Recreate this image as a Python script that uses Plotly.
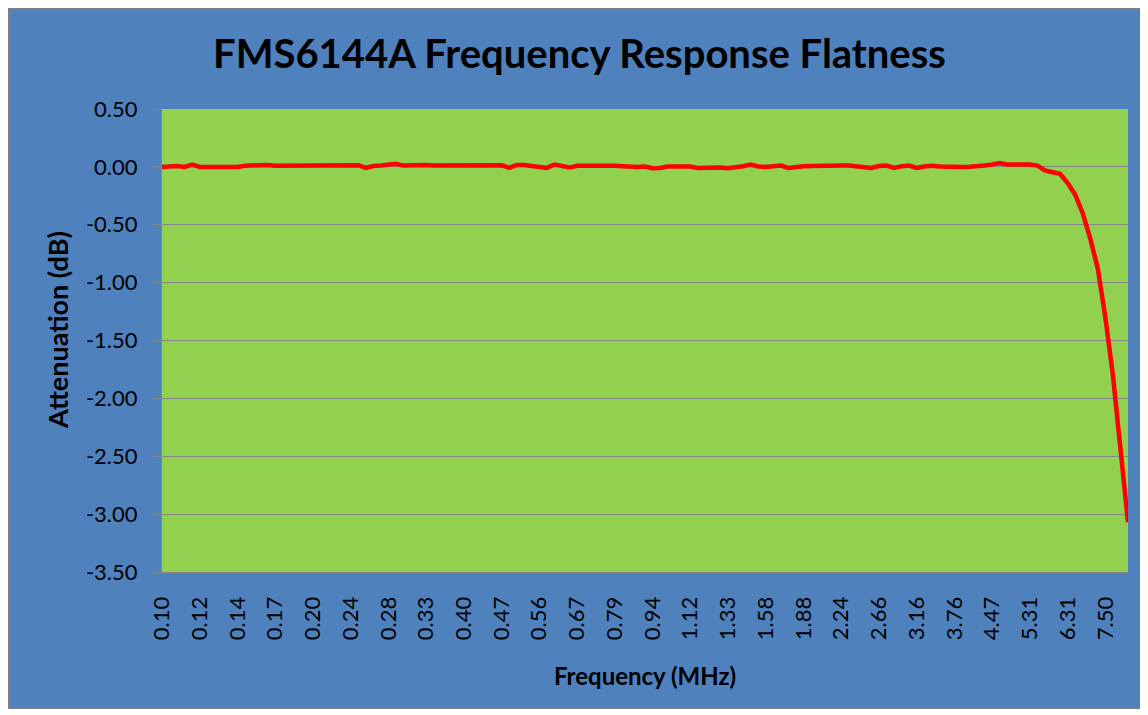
import plotly.graph_objects as go

# Tick labels (frequency in MHz), one every 5 measurement points
freq_labels = ["0.10", "0.12", "0.14", "0.17", "0.20", "0.24", "0.28", "0.33", "0.40",
               "0.47", "0.56", "0.67", "0.79", "0.94", "1.12", "1.33", "1.58", "1.88",
               "2.24", "2.66", "3.16", "3.76", "4.47", "5.31", "6.31", "7.50"]
points_per_label = 5

attenuation_db = [
    0.000, 0.003, 0.008, 0.000, 0.020, 0.000, 0.000, 0.000, 0.000, 0.000,
    0.000, 0.010, 0.012, 0.006, 0.017, 0.009, 0.009, 0.009, 0.011, 0.017,
    0.017, 0.017, 0.015, 0.009, 0.017, 0.017, 0.015, -0.009, 0.008, 0.011,
    0.014, 0.026, 0.011, 0.014, 0.017, 0.017, 0.011, 0.011, 0.011, 0.011,
    0.011, 0.011, 0.012, 0.014, 0.017, 0.015, -0.009, 0.017, 0.017, 0.010,
    0.006, -0.009, 0.020, 0.006, -0.006, 0.009, 0.009, 0.009, 0.012, 0.017,
    0.009, 0.006, 0.000, 0.000, 0.003, -0.011, -0.009, 0.003, 0.003, 0.006,
    0.003, -0.009, -0.009, 0.000, -0.006, -0.011, -0.006, 0.006, 0.020, 0.003,
    0.000, 0.006, 0.011, -0.009, 0.003, 0.006, 0.008, 0.011, 0.011, 0.011,
    0.011, 0.011, 0.003, -0.006, -0.009, 0.008, 0.011, -0.009, 0.006, 0.011,
    -0.009, 0.003, 0.009, 0.003, 0.000, 0.000, 0.000, 0.002, 0.003, 0.012,
    0.020, 0.034, 0.020, 0.022, 0.022, 0.020, 0.011, -0.030, -0.046, -0.060,
    -0.14, -0.24, -0.40, -0.62, -0.88, -1.30, -1.80, -2.40, -3.07,
]

y_ticks = [0.5, 0.0, -0.5, -1.0, -1.5, -2.0, -2.5, -3.0, -3.5]

FONT = "Lato"
BLUE = "#4F81BD"
GREEN = "#92D050"
GRAY = "#868686"

# The HTML page body has an 8px margin; size the figure so it fits the window.
OFF = 8
W, H = 1148 - OFF, 715 - OFF
# plot area in page pixels: x 162..1128, y 109..572
PL, PR, PT, PB = 162, 1128, 109, 572
L, T = PL - OFF, PT - OFF
R, B = W - (PR - OFF), H - (PB - OFF)
pw, ph = W - L - R, H - T - B


def px_x(p):
    return (p - OFF - L) / pw


def px_y(p):
    return (H - B - (p - OFF)) / ph


idx = list(range(len(attenuation_db)))

fig = go.Figure()
fig.add_trace(go.Scatter(
    x=idx, y=attenuation_db, mode="lines",
    line=dict(color="#FF0000", width=4.5),
    hoverinfo="skip", showlegend=False,
))

fig.update_layout(
    width=W, height=H,
    margin=dict(l=L, r=R, t=T, b=B, pad=0),
    paper_bgcolor="white",
    plot_bgcolor=GREEN,
    font=dict(family=FONT, color="black"),
    showlegend=False,
    shapes=[
        dict(type="rect", xref="paper", yref="paper", layer="below",
             x0=px_x(OFF + 1), x1=px_x(1141), y0=px_y(708), y1=px_y(OFF + 1),
             fillcolor=BLUE, line=dict(color="#7F7F7F", width=2)),
        dict(type="rect", xref="paper", yref="paper", layer="below",
             x0=0, x1=1, y0=0, y1=1,
             fillcolor=GREEN, line=dict(width=0)),
    ],
    annotations=[
        dict(text="<b>FMS6144A Frequency Response Flatness</b>",
             xref="paper", yref="paper", x=px_x(579), y=px_y(53),
             xanchor="center", yanchor="middle", showarrow=False,
             font=dict(family=FONT, size=40, color="black")),
        dict(text="<b>Frequency (MHz)</b>",
             xref="paper", yref="paper", x=0.5, y=px_y(675),
             xanchor="center", yanchor="middle", showarrow=False,
             font=dict(family=FONT, size=24, color="black")),
        dict(text="<b>Attenuation (dB)</b>", textangle=-90,
             xref="paper", yref="paper", x=px_x(57), y=px_y(330),
             xanchor="center", yanchor="middle", showarrow=False,
             font=dict(family=FONT, size=27, color="black")),
    ],
)

fig.update_xaxes(
    range=[0, len(attenuation_db) - 1],
    tickmode="array",
    tickvals=[i * points_per_label for i in range(len(freq_labels))],
    ticktext=freq_labels,
    tickangle=-90,
    tickfont=dict(family=FONT, size=22, color="black"),
    ticks="", ticklabelstandoff=15,
    showgrid=False, zeroline=False,
    showline=True, linecolor=GRAY, linewidth=1,
)
fig.update_yaxes(
    range=[-3.5, 0.5],
    tickmode="array",
    tickvals=y_ticks,
    ticktext=[f"{v:.2f}" for v in y_ticks],
    tickfont=dict(family=FONT, size=22, color="black"),
    ticks="outside", ticklen=8, tickcolor=GRAY, tickwidth=1,
    ticklabelstandoff=11,
    showgrid=True, gridcolor=GRAY, gridwidth=1,
    zeroline=False,
    showline=True, linecolor=GRAY, linewidth=1,
)

fig.write_html("out.html")
